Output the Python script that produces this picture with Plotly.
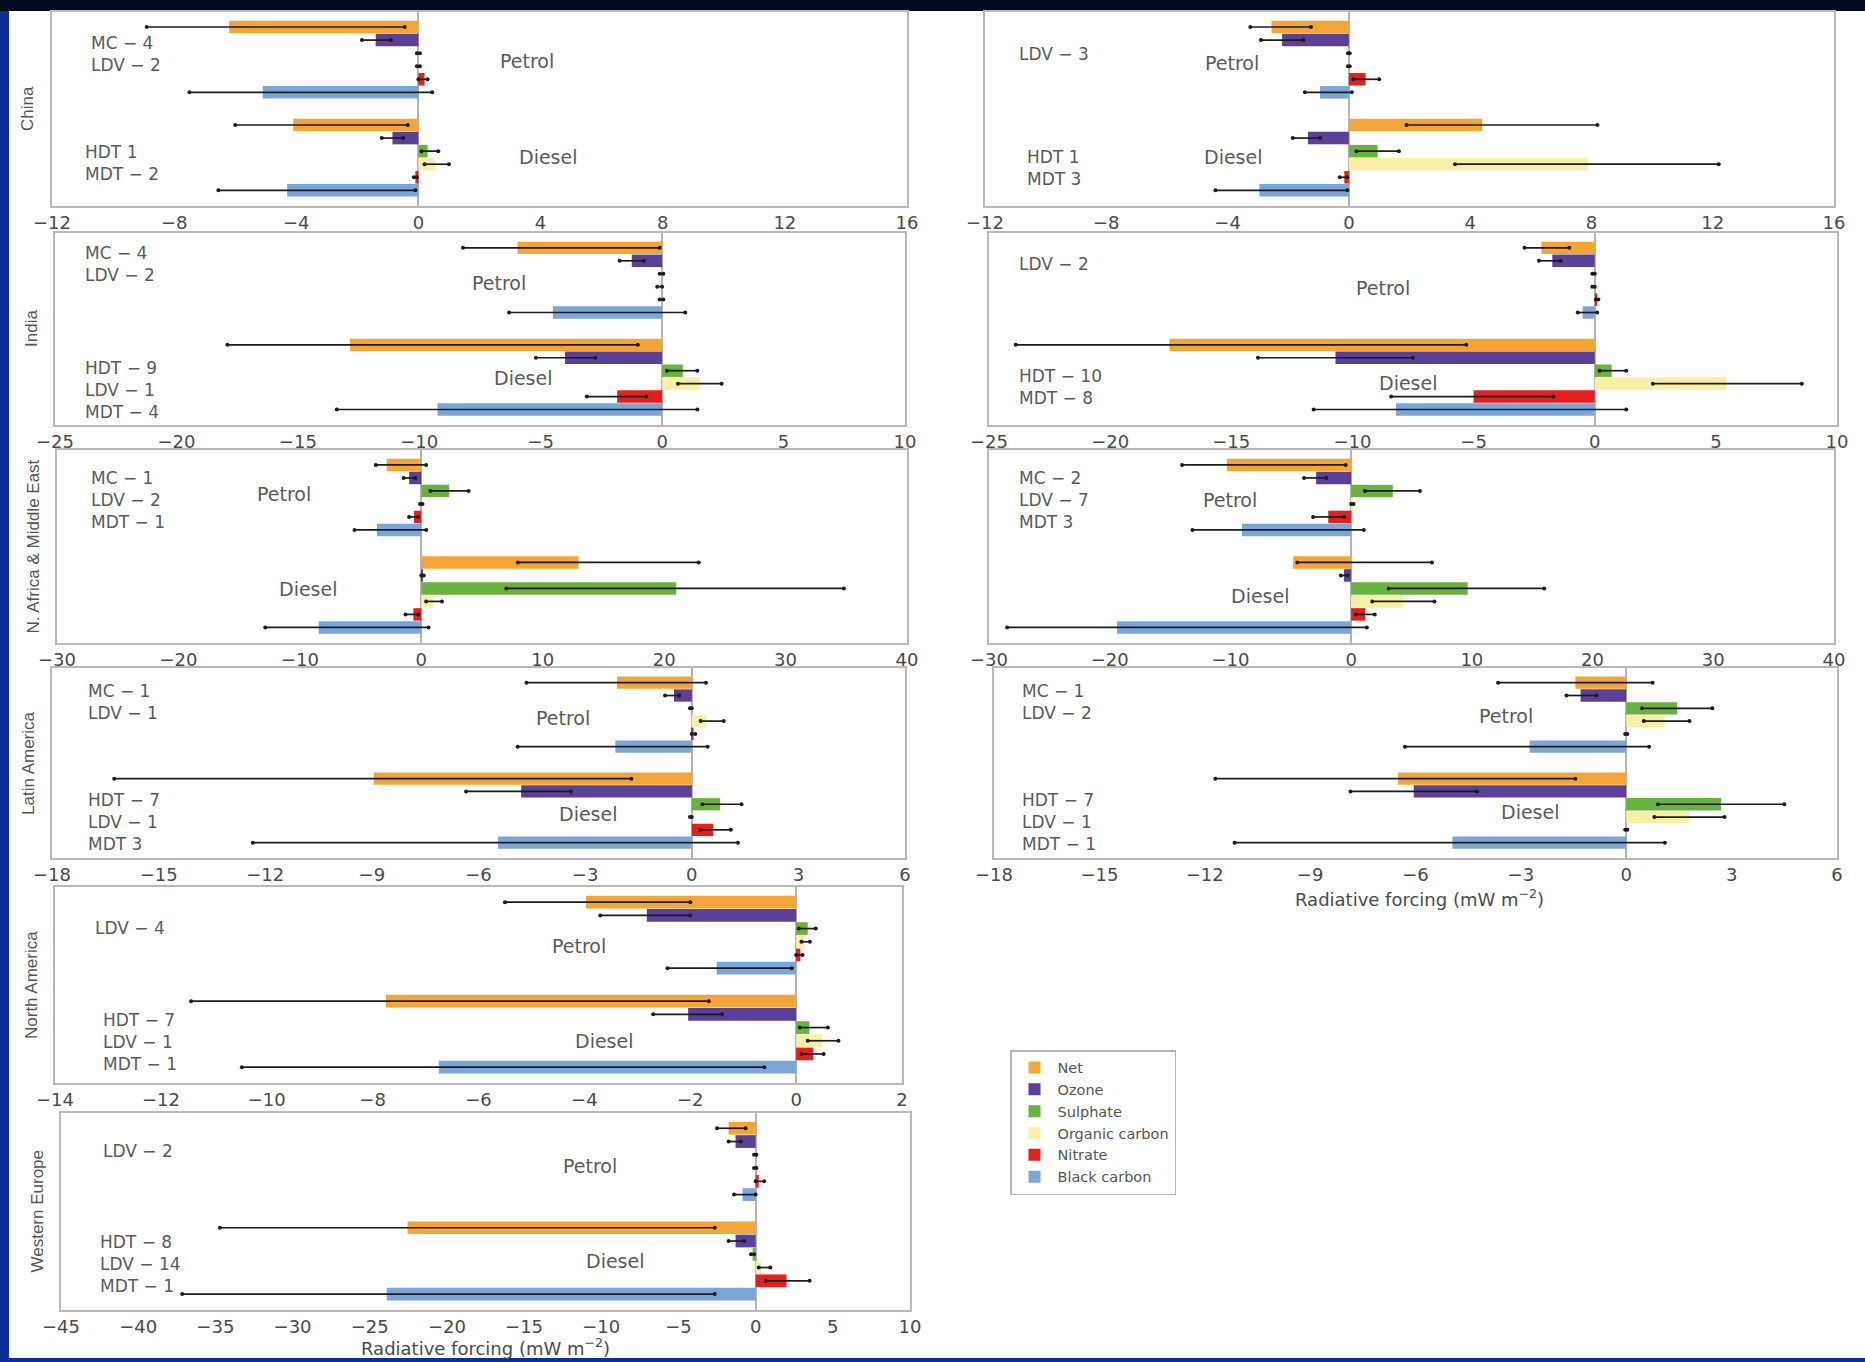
import plotly.graph_objects as go

W, H = 1865, 1362

# ---------------- data ----------------
components = ["Net", "Ozone", "Sulphate", "Organic carbon", "Nitrate", "Black carbon"]
colors = ["#F4A537", "#5B3F98", "#69B23E", "#F7F0A6", "#E2211F", "#7BA6DA"]
fuel_names = ["Petrol", "Diesel"]
region_names = ["China", "India", "N. Africa & Middle East", "Latin America",
                "North America", "Western Europe"]
axis_title = "Radiative forcing (mW m<sup>−2</sup>)"

# values: 6 petrol (Net..Black carbon) followed by 6 diesel
china_a_val = [-6.2, -1.4, 0.0, 0.0, 0.2, -5.1, -4.1, -0.85, 0.3, 0.55, -0.1, -4.3]
china_a_lo = [-8.9, -1.85, -0.05, -0.05, 0.0, -7.5, -6.0, -1.2, 0.1, 0.2, -0.15, -6.55]
china_a_hi = [-0.45, -0.9, 0.05, 0.05, 0.3, 0.45, -0.35, -0.5, 0.65, 1.0, -0.05, -0.1]
china_a_petrol_lbl = ["MC − 4", "LDV − 2"]
china_a_diesel_lbl = ["HDT 1", "MDT − 2"]

china_b_val = [-2.55, -2.2, 0.0, 0.0, 0.55, -0.95, 4.4, -1.35, 0.95, 7.9, -0.15, -2.95]
china_b_lo = [-3.25, -2.9, -0.03, -0.03, 0.15, -1.45, 1.9, -1.85, 0.25, 3.5, -0.3, -4.4]
china_b_hi = [-1.25, -1.5, 0.03, 0.03, 1.0, 0.1, 8.2, -0.95, 1.65, 12.2, -0.05, -0.05]
china_b_petrol_lbl = ["LDV − 3"]
china_b_diesel_lbl = ["HDT 1", "MDT 3"]

india_a_val = [-5.95, -1.25, 0.0, 0.0, 0.0, -4.5, -12.85, -4.0, 0.85, 1.55, -1.85, -9.25]
india_a_lo = [-8.2, -1.75, -0.1, -0.2, -0.1, -6.3, -17.9, -5.2, 0.2, 0.65, -3.1, -13.4]
india_a_hi = [-0.1, -0.75, 0.05, 0.0, 0.05, 0.95, -1.0, -2.75, 1.45, 2.45, -0.65, 1.45]
india_a_petrol_lbl = ["MC − 4", "LDV − 2"]
india_a_diesel_lbl = ["HDT − 9", "LDV − 1", "MDT − 4"]

india_b_val = [-2.2, -1.75, 0.0, 0.0, 0.1, -0.5, -17.55, -10.7, 0.7, 5.45, -5.0, -8.2]
india_b_lo = [-2.9, -2.3, -0.1, -0.1, 0.05, -0.7, -23.9, -13.9, 0.2, 2.4, -8.4, -11.6]
india_b_hi = [-1.05, -1.4, 0.0, 0.0, 0.15, 0.1, -5.3, -7.5, 1.3, 8.55, -1.7, 1.3]
india_b_petrol_lbl = ["LDV − 2"]
india_b_diesel_lbl = ["HDT − 10", "MDT − 8"]

nafr_a_val = [-2.85, -1.0, 2.3, 0.0, -0.6, -3.65, 12.95, 0.1, 21.0, 1.0, -0.65, -8.45]
nafr_a_lo = [-3.75, -1.45, 0.75, -0.1, -1.0, -5.5, 7.95, 0.0, 7.0, 0.4, -1.3, -12.85]
nafr_a_hi = [0.4, -0.5, 3.9, 0.1, -0.25, 0.4, 22.85, 0.2, 34.8, 1.7, -0.25, 0.6]
nafr_a_petrol_lbl = ["MC − 1", "LDV − 2", "MDT − 1"]
nafr_a_diesel_lbl = []

nafr_b_val = [-10.3, -2.9, 3.45, 0.1, -1.9, -9.05, -4.8, -0.6, 9.65, 4.3, 1.15, -19.4]
nafr_b_lo = [-14.0, -3.9, 1.15, 0.0, -3.15, -13.15, -4.45, -0.85, 3.1, 1.75, 0.4, -28.5]
nafr_b_hi = [-0.45, -2.05, 5.7, 0.2, -0.6, 1.05, 6.7, -0.3, 16.0, 6.9, 1.95, 1.3]
nafr_b_petrol_lbl = ["MC − 2", "LDV − 7", "MDT 3"]
nafr_b_diesel_lbl = []

latam_a_val = [-2.1, -0.5, 0.0, 0.4, 0.05, -2.15, -8.95, -4.8, 0.8, 0.0, 0.6, -5.45]
latam_a_lo = [-4.65, -0.75, -0.05, 0.25, 0.0, -4.9, -16.25, -6.35, 0.3, -0.05, 0.25, -12.35]
latam_a_hi = [0.4, -0.35, 0.0, 0.9, 0.1, 0.45, -1.7, -3.4, 1.4, 0.0, 1.1, 1.3]
latam_a_petrol_lbl = ["MC − 1", "LDV − 1"]
latam_a_diesel_lbl = ["HDT − 7", "LDV − 1", "MDT 3"]

latam_b_val = [-1.45, -1.3, 1.45, 1.1, 0.0, -2.75, -6.5, -6.05, 2.7, 1.8, 0.0, -4.95]
latam_b_lo = [-3.65, -1.7, 0.45, 0.5, -0.03, -6.3, -11.7, -7.85, 0.9, 0.8, -0.03, -11.15]
latam_b_hi = [0.75, -0.85, 2.45, 1.8, 0.03, 0.65, -1.45, -4.25, 4.5, 2.8, 0.03, 1.1]
latam_b_petrol_lbl = ["MC − 1", "LDV − 2"]
latam_b_diesel_lbl = ["HDT − 7", "LDV − 1", "MDT − 1"]

namer_val = [-3.97, -2.82, 0.22, 0.15, 0.08, -1.5, -7.75, -2.04, 0.25, 0.5, 0.32, -6.75]
namer_lo = [-5.5, -3.7, 0.05, 0.1, 0.0, -2.43, -11.43, -2.7, 0.07, 0.22, 0.1, -10.47]
namer_hi = [-2.0, -2.0, 0.37, 0.26, 0.12, -0.08, -1.65, -1.4, 0.6, 0.8, 0.52, -0.6]
namer_petrol_lbl = ["LDV − 4"]
namer_diesel_lbl = ["HDT − 7", "LDV − 1", "MDT − 1"]

weur_val = [-1.75, -1.3, 0.0, 0.0, 0.2, -0.85, -22.55, -1.3, -0.2, 0.35, 2.0, -23.9]
weur_lo = [-2.5, -1.75, -0.1, -0.1, 0.0, -1.4, -34.7, -1.75, -0.3, 0.2, 0.65, -37.15]
weur_hi = [-0.65, -0.95, 0.05, 0.05, 0.55, 0.0, -2.65, -0.75, -0.1, 0.95, 3.5, -2.65]
weur_petrol_lbl = ["LDV − 2"]
weur_diesel_lbl = ["HDT − 8", "LDV − 14", "MDT − 1"]

# axis ranges / tick steps per row
row_ranges = [(-12, 16), (-25, 10), (-30, 40), (-18, 6), (-14, 2), (-45, 10)]
row_dticks = [4, 5, 10, 3, 2, 5]

# ---------------- layout (pixel geometry) ----------------
# frame = (left, right, top, bottom); label groups: (x_left, y_center)
panels = [
    dict(row=0, region=True, val=china_a_val, lo=china_a_lo, hi=china_a_hi,
         frame=(52, 907, 12, 206), pl=china_a_petrol_lbl, dl=china_a_diesel_lbl,
         pg=(89, 54), dg=(83, 163), pt=(527, 61), dt=(548, 157)),
    dict(row=0, region=False, val=china_b_val, lo=china_b_lo, hi=china_b_hi,
         frame=(985, 1834, 12, 206), pl=china_b_petrol_lbl, dl=china_b_diesel_lbl,
         pg=(1017, 54), dg=(1025, 168), pt=(1232, 63), dt=(1233, 157)),
    dict(row=1, region=True, val=india_a_val, lo=india_a_lo, hi=india_a_hi,
         frame=(55, 905, 233, 425), pl=india_a_petrol_lbl, dl=india_a_diesel_lbl,
         pg=(83, 264), dg=(83, 390), pt=(499, 283), dt=(523, 378)),
    dict(row=1, region=False, val=india_b_val, lo=india_b_lo, hi=india_b_hi,
         frame=(989, 1837, 233, 425), pl=india_b_petrol_lbl, dl=india_b_diesel_lbl,
         pg=(1017, 264), dg=(1017, 387), pt=(1383, 288), dt=(1408, 383)),
    dict(row=2, region=True, val=nafr_a_val, lo=nafr_a_lo, hi=nafr_a_hi,
         frame=(57, 907, 450, 643), pl=nafr_a_petrol_lbl, dl=nafr_a_diesel_lbl,
         pg=(89, 500), dg=(89, 0), pt=(284, 494), dt=(308, 589)),
    dict(row=2, region=False, val=nafr_b_val, lo=nafr_b_lo, hi=nafr_b_hi,
         frame=(989, 1834, 450, 643), pl=nafr_b_petrol_lbl, dl=nafr_b_diesel_lbl,
         pg=(1017, 500), dg=(1017, 0), pt=(1230, 500), dt=(1260, 596)),
    dict(row=3, region=True, val=latam_a_val, lo=latam_a_lo, hi=latam_a_hi,
         frame=(52, 905, 668, 858), pl=latam_a_petrol_lbl, dl=latam_a_diesel_lbl,
         pg=(86, 702), dg=(86, 822), pt=(563, 718), dt=(588, 814)),
    dict(row=3, region=False, val=latam_b_val, lo=latam_b_lo, hi=latam_b_hi,
         frame=(994, 1837, 668, 858), pl=latam_b_petrol_lbl, dl=latam_b_diesel_lbl,
         pg=(1020, 702), dg=(1020, 822), pt=(1506, 716), dt=(1530, 812)),
    dict(row=4, region=True, val=namer_val, lo=namer_lo, hi=namer_hi,
         frame=(55, 902, 887, 1083), pl=namer_petrol_lbl, dl=namer_diesel_lbl,
         pg=(93, 928), dg=(101, 1042), pt=(579, 946), dt=(604, 1041)),
    dict(row=5, region=True, val=weur_val, lo=weur_lo, hi=weur_hi,
         frame=(61, 910, 1113, 1310), pl=weur_petrol_lbl, dl=weur_diesel_lbl,
         pg=(101, 1151), dg=(98, 1264), pt=(590, 1166), dt=(615, 1261)),
]

slot_pos = [k for k in range(6)] + [7.5 + k for k in range(6)]
Y_RANGE = [13.7, -1.15]

TEXT_FONT = dict(family="DejaVu Sans", size=17, color="#5a5a5a")
FUEL_FONT = dict(family="DejaVu Sans", size=19, color="#5a5a5a")
TICK_FONT = dict(family="DejaVu Sans", size=18, color="#4a4a4a")
REGION_FONT = dict(family="Liberation Sans Narrow, Liberation Sans, Arial Narrow, sans-serif",
                   size=17, color="#555555")
FRAME_COL = "#b9b9b9"


def px_x(x):
    return x / W


def px_y(y):
    return 1 - y / H


fig = go.Figure()
annotations = []
layout_axes = {}

for i, p in enumerate(panels):
    n = i + 1
    xa = "x" if n == 1 else f"x{n}"
    ya = "y" if n == 1 else f"y{n}"
    for c in range(6):
        fig.add_trace(go.Bar(
            orientation="h",
            x=[p["val"][c], p["val"][c + 6]],
            y=[slot_pos[c], slot_pos[c + 6]],
            width=0.96,
            marker=dict(color=colors[c], line=dict(width=0)),
            name=components[c],
            showlegend=(i == 0),
            xaxis=xa, yaxis=ya,
        ))
    ex, ey = [], []
    for k in range(12):
        ex += [p["lo"][k], p["hi"][k], None]
        ey += [slot_pos[k], slot_pos[k], None]
    fig.add_trace(go.Scatter(
        x=ex, y=ey, mode="lines+markers",
        line=dict(color="#1c1c1c", width=1.7),
        marker=dict(size=4, color="#1c1c1c"),
        showlegend=False, hoverinfo="skip",
        xaxis=xa, yaxis=ya,
    ))

    x0, x1, yt, yb = p["frame"]
    r0, r1 = row_ranges[p["row"]]
    span = r1 - r0
    xkey = "xaxis" if n == 1 else f"xaxis{n}"
    ykey = "yaxis" if n == 1 else f"yaxis{n}"
    layout_axes[xkey] = dict(
        domain=[px_x(x0), px_x(x1)], anchor=ya, automargin=False,
        range=[r0 - span * 1e-5, r1 + span * 1e-5],
        tick0=0, dtick=row_dticks[p["row"]],
        showgrid=False, zeroline=True, zerolinecolor="#b4b4b4", zerolinewidth=2,
        showline=True, mirror=True, linecolor=FRAME_COL, linewidth=1.5,
        ticks="", tickfont=TICK_FONT, fixedrange=True,
    )
    layout_axes[ykey] = dict(
        domain=[px_y(yb), px_y(yt)], anchor=xa, range=Y_RANGE, automargin=False,
        showticklabels=False, showgrid=False, zeroline=False,
        showline=True, mirror=True, linecolor=FRAME_COL, linewidth=1.5,
        ticks="", fixedrange=True,
    )

    # vehicle-type label groups (multi-line)
    for lbls, (gx, gy) in ((p["pl"], p["pg"]), (p["dl"], p["dg"])):
        if lbls:
            annotations.append(dict(text="<br>".join(lbls), x=px_x(gx), y=px_y(gy),
                                    xref="paper", yref="paper", xanchor="left", yanchor="middle",
                                    align="left", showarrow=False, font=TEXT_FONT))
    # fuel labels
    annotations.append(dict(text=fuel_names[0], x=px_x(p["pt"][0]), y=px_y(p["pt"][1]),
                            xref="paper", yref="paper", xanchor="center", yanchor="middle",
                            showarrow=False, font=FUEL_FONT))
    annotations.append(dict(text=fuel_names[1], x=px_x(p["dt"][0]), y=px_y(p["dt"][1]),
                            xref="paper", yref="paper", xanchor="center", yanchor="middle",
                            showarrow=False, font=FUEL_FONT))
    # region label
    if p["region"]:
        annotations.append(dict(text=region_names[p["row"]], x=px_x(x0 - 24), y=px_y((yt + yb) / 2),
                                xref="paper", yref="paper", xanchor="center", yanchor="middle",
                                textangle=-90, showarrow=False, font=REGION_FONT))

# x-axis titles
annotations.append(dict(text=axis_title, x=px_x(1419), y=px_y(898), xref="paper", yref="paper",
                        xanchor="center", yanchor="middle", showarrow=False, font=TICK_FONT))
annotations.append(dict(text=axis_title, x=px_x(485), y=px_y(1347), xref="paper", yref="paper",
                        xanchor="center", yanchor="middle", showarrow=False, font=TICK_FONT))

shapes = [
    dict(type="rect", xref="paper", yref="paper", x0=0, x1=1, y0=px_y(11), y1=1,
         fillcolor="#020a1f", line=dict(width=0), layer="below"),
    dict(type="rect", xref="paper", yref="paper", x0=px_x(9), x1=1,
         y0=px_y(1358), y1=px_y(11), fillcolor="white", line=dict(width=0), layer="below"),
]

fig.update_layout(
    template="none",
    width=W, height=H,
    margin=dict(l=0, r=0, t=0, b=0, pad=0, autoexpand=False),
    paper_bgcolor="#0b2d97",
    plot_bgcolor="white",
    barmode="overlay",
    shapes=shapes,
    annotations=annotations,
    legend=dict(
        x=px_x(1010), y=px_y(1050), xanchor="left", yanchor="top",
        bgcolor="white", bordercolor="#b5b5b5", borderwidth=1.5,
        font=dict(family="DejaVu Sans", size=14.5, color="#555555"),
        tracegroupgap=0, itemwidth=36,
    ),
    **layout_axes,
)

fig.write_html(
    "out.html",
    config={"displayModeBar": False},
    post_script="document.body.style.margin='0';document.body.style.overflow='hidden';"
                "document.body.style.background='#0b2d97';",
)
